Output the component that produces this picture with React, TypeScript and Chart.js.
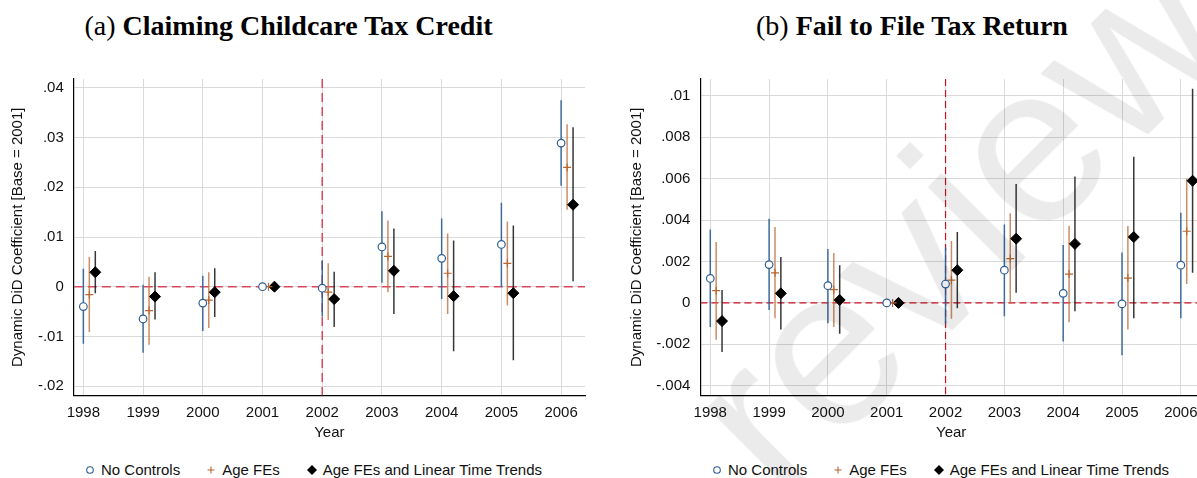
import { useEffect, useRef } from "react"
import { Chart, registerables } from "chart.js"

Chart.register(...registerables)

const years = [1998, 1999, 2000, 2001, 2002, 2003, 2004, 2005, 2006]
const seriesNames = ["No Controls", "Age FEs", "Age FEs and Linear Time Trends"]

// (a) Claiming Childcare Tax Credit
const aNoCtrl = [-0.004, -0.0065, -0.0033, 0, -0.0003, 0.008, 0.0057, 0.0085, 0.0289]
const aNoCtrlLo = [-0.0115, -0.0133, -0.0089, 0, -0.006, 0.0008, -0.0025, 0.0, 0.0203]
const aNoCtrlHi = [0.0036, 0.0004, 0.0022, 0, 0.0053, 0.0152, 0.0137, 0.0169, 0.0375]
const aAgeFE = [-0.0016, -0.0048, -0.0027, 0, -0.0011, 0.0061, 0.0027, 0.0047, 0.024]
const aAgeFELo = [-0.0091, -0.0117, -0.0083, 0, -0.0067, -0.0011, -0.0055, -0.0038, 0.0155]
const aAgeFEHi = [0.006, 0.002, 0.0029, 0, 0.0047, 0.0133, 0.0107, 0.0131, 0.0327]
const aTrend = [0.0029, -0.002, -0.0011, 0, -0.0025, 0.0032, -0.0019, -0.0013, 0.0165]
const aTrendLo = [-0.0013, -0.0066, -0.0061, 0, -0.0081, -0.0055, -0.013, -0.0148, 0.0011]
const aTrendHi = [0.0072, 0.0029, 0.0037, 0, 0.003, 0.0117, 0.0093, 0.0123, 0.0321]
const aYTicks = [-0.02, -0.01, 0, 0.01, 0.02, 0.03, 0.04]

// (b) Fail to File Tax Return
const bNoCtrl = [0.00118, 0.00185, 0.00083, 0, 0.00091, 0.00158, 0.00046, -0.00005, 0.00182]
const bNoCtrlLo = [-0.00117, -0.00034, -0.00098, 0, -0.00101, -0.00064, -0.00186, -0.00253, -0.00074]
const bNoCtrlHi = [0.00355, 0.00406, 0.0026, 0, 0.00267, 0.00379, 0.0028, 0.00243, 0.00435]
const bAgeFE = [0.00059, 0.00145, 0.00064, 0, 0.0011, 0.00214, 0.00139, 0.0012, 0.00346]
const bAgeFELo = [-0.00178, -0.00074, -0.00117, 0, -0.00077, -0.00005, -0.00093, -0.00128, 0.00091]
const bAgeFEHi = [0.00294, 0.00366, 0.00241, 0, 0.00299, 0.00433, 0.00371, 0.00371, 0.006]
const bTrend = [-0.00088, 0.00046, 0.00014, 0, 0.00158, 0.0031, 0.00285, 0.00318, 0.0059]
const bTrendLo = [-0.00237, -0.00128, -0.00149, 0, -0.00026, 0.00049, -0.0004, -0.00074, 0.00145]
const bTrendHi = [0.00062, 0.00222, 0.00182, 0, 0.00342, 0.00574, 0.00611, 0.00706, 0.01035]
const bYTicks = [-0.004, -0.002, 0, 0.002, 0.004, 0.006, 0.008, 0.01]

const BLUE = "#2c5e94"
const ORANGE = "#b8652f"
const BLACK = "#000000"
const BAR_COLORS = ["rgba(44,94,148,0.9)", "rgba(190,112,62,0.8)", "rgba(20,20,20,0.85)"]
const SANS = "'Liberation Sans', Arial, sans-serif"

const fmt = (v: number) => {
  if (Math.abs(v) < 1e-12) return "0"
  const s = String(+Math.abs(v).toFixed(4)).replace(/^0/, "")
  return (v < 0 ? "-" : "") + s
}

type Panel = {
  left: number
  width: number
  yAxisWidth: number
  titlePad: number
  padRight: number
  xMin: number
  xMax: number
  yMin: number
  yMax: number
  yTicks: number[]
  coef: number[][]
  lo: number[][]
  hi: number[][]
  refColor: string
  refDash: number[]
  refWidth: number
}

const CANVAS_TOP = 60
const CANVAS_H = 390

function makePlugin(p: Panel) {
  return {
    id: "errorBars",
    beforeDatasetsDraw(chart: any) {
      const { ctx, chartArea: a, scales } = chart
      const x = scales.x
      const y = scales.y
      ctx.save()
      ctx.beginPath()
      ctx.rect(a.left, a.top, a.right - a.left, a.bottom - a.top)
      ctx.clip()
      // reference lines at zero and at the 2002 reform
      ctx.strokeStyle = p.refColor
      ctx.lineWidth = p.refWidth
      ctx.setLineDash(p.refDash)
      const y0 = y.getPixelForValue(0)
      ctx.beginPath()
      ctx.moveTo(a.left, y0)
      ctx.lineTo(a.right, y0)
      ctx.stroke()
      const xr = x.getPixelForValue(2002)
      ctx.beginPath()
      ctx.moveTo(xr, a.top)
      ctx.lineTo(xr, a.bottom)
      ctx.stroke()
      ctx.setLineDash([])
      // confidence intervals
      chart.data.datasets.forEach((ds: any, i: number) => {
        ctx.strokeStyle = BAR_COLORS[i]
        ctx.lineWidth = 1.5
        ds.data.forEach((pt: any, j: number) => {
          const l = p.lo[i][j]
          const h = p.hi[i][j]
          if (l === h) return
          const px = x.getPixelForValue(pt.x)
          ctx.beginPath()
          ctx.moveTo(px, y.getPixelForValue(l))
          ctx.lineTo(px, y.getPixelForValue(h))
          ctx.stroke()
        })
      })
      ctx.restore()
    },
  }
}

function CoefPlot({ p }: { p: Panel }) {
  const chartRef = useRef<HTMLCanvasElement>(null)
  const chartInstance = useRef<Chart | null>(null)

  useEffect(() => {
    if (!chartRef.current) return
    if (chartInstance.current) chartInstance.current.destroy()
    const ctx = chartRef.current.getContext("2d")
    if (!ctx) return

    const offsets = [0, 0.1, 0.2]
    const styles = [
      { pointStyle: "circle", pointRadius: 3.8, borderColor: BLUE, backgroundColor: "#ffffff", pointBorderWidth: 1.2 },
      { pointStyle: "cross", pointRadius: 4, borderColor: ORANGE, backgroundColor: ORANGE, pointBorderWidth: 1.2 },
      { pointStyle: "rectRot", pointRadius: 5.5, borderColor: BLACK, backgroundColor: BLACK, pointBorderWidth: 1 },
    ]

    chartInstance.current = new Chart(ctx, {
      type: "scatter",
      data: {
        datasets: p.coef.map((vals, i) => ({
          label: seriesNames[i],
          data: years.map((yr, j) => ({ x: yr + offsets[i], y: vals[j] })),
          showLine: false,
          ...styles[i],
        })) as any,
      },
      options: {
        animation: false,
        responsive: true,
        maintainAspectRatio: false,
        layout: { padding: { top: 17, right: p.padRight, left: 0, bottom: 0 } },
        plugins: { legend: { display: false }, tooltip: { enabled: false } },
        scales: {
          x: {
            type: "linear",
            min: p.xMin,
            max: p.xMax,
            afterBuildTicks: (s: any) => {
              s.ticks = years.map((v) => ({ value: v }))
            },
            afterFit: (s: any) => {
              s.height = CANVAS_H - 335.5
            },
            grid: { color: "#d9d9d9", lineWidth: 1, drawTicks: false },
            border: { color: "#000", width: 1.2 },
            ticks: {
              color: "#111",
              padding: 8,
              font: { family: SANS, size: 15 },
              callback: (v: any) => String(v),
            },
            title: {
              display: true,
              text: "Year",
              color: "#111",
              font: { family: SANS, size: 15 },
              padding: { top: 0, bottom: 8 },
            },
          },
          y: {
            type: "linear",
            min: p.yMin,
            max: p.yMax,
            afterBuildTicks: (s: any) => {
              s.ticks = p.yTicks.map((v) => ({ value: v }))
            },
            afterFit: (s: any) => {
              s.width = p.yAxisWidth
            },
            grid: { color: "#d9d9d9", lineWidth: 1, drawTicks: false },
            border: { color: "#000", width: 1.2 },
            ticks: {
              color: "#111",
              padding: 10,
              font: { family: SANS, size: 15 },
              callback: (v: any) => fmt(Number(v)),
            },
            title: {
              display: true,
              text: "Dynamic DiD Coefficient [Base = 2001]",
              color: "#111",
              font: { family: SANS, size: 15 },
              padding: { top: p.titlePad, bottom: 0 },
            },
          },
        },
      },
      plugins: [makePlugin(p) as any],
    })

    return () => {
      if (chartInstance.current) {
        chartInstance.current.destroy()
        chartInstance.current = null
      }
    }
  }, [p])

  return (
    <div style={{ position: "absolute", left: p.left, top: CANVAS_TOP, width: p.width, height: CANVAS_H }}>
      <canvas ref={chartRef}></canvas>
    </div>
  )
}

function Legend({ left }: { left: number }) {
  const item = { display: "flex", alignItems: "center" } as const
  return (
    <div
      style={{
        position: "absolute",
        left,
        top: 461,
        display: "flex",
        alignItems: "center",
        gap: 26,
        fontFamily: SANS,
        fontSize: 15,
        lineHeight: "18px",
        color: "#111",
        whiteSpace: "nowrap",
      }}
    >
      <div style={item}>
        <svg width="10" height="10" style={{ marginRight: 6 }}>
          <circle cx="5" cy="5" r="3.3" fill="#fff" stroke={BLUE} strokeWidth="1.1" />
        </svg>
        <span>{seriesNames[0]}</span>
      </div>
      <div style={item}>
        <svg width="10" height="10" style={{ marginRight: 6 }}>
          <path d="M5 1.5 V8.5 M1.5 5 H8.5" stroke={ORANGE} strokeWidth="1.1" />
        </svg>
        <span>{seriesNames[1]}</span>
      </div>
      <div style={item}>
        <svg width="12" height="12" style={{ marginRight: 5 }}>
          <polygon points="6,1 11,6 6,11 1,6" fill={BLACK} />
        </svg>
        <span>{seriesNames[2]}</span>
      </div>
    </div>
  )
}

const panelA: Panel = {
  left: 0,
  width: 600,
  yAxisWidth: 73.8,
  titlePad: 9,
  padRight: 15,
  xMin: 1997.84,
  xMax: 2006.4,
  yMin: -0.0219,
  yMax: 0.0418,
  yTicks: aYTicks,
  coef: [aNoCtrl, aAgeFE, aTrend],
  lo: [aNoCtrlLo, aAgeFELo, aTrendLo],
  hi: [aNoCtrlHi, aAgeFEHi, aTrendHi],
  refColor: "#d8485e",
  refDash: [9, 5],
  refWidth: 1.5,
}

const panelB: Panel = {
  left: 610,
  width: 607,
  yAxisWidth: 90.4,
  titlePad: 17.5,
  padRight: 15,
  xMin: 1997.832,
  xMax: 2006.36,
  yMin: -0.004474,
  yMax: 0.010815,
  yTicks: bYTicks,
  coef: [bNoCtrl, bAgeFE, bTrend],
  lo: [bNoCtrlLo, bAgeFELo, bTrendLo],
  hi: [bNoCtrlHi, bAgeFEHi, bTrendHi],
  refColor: "#cc1122",
  refDash: [7, 4],
  refWidth: 1.2,
}

function Title({ center, tag, text }: { center: number; tag: string; text: string }) {
  return (
    <div
      style={{
        position: "absolute",
        left: center - 300,
        width: 600,
        top: 12,
        textAlign: "center",
        fontFamily: "'Liberation Serif', 'Times New Roman', serif",
        fontSize: 28,
        lineHeight: "28px",
        color: "#000",
        whiteSpace: "nowrap",
      }}
    >
      {tag} <b>{text}</b>
    </div>
  )
}

export default function App() {
  return (
    <div
      style={{
        position: "absolute",
        left: 0,
        top: 0,
        width: 1197,
        height: 478,
        overflow: "hidden",
        background: "#fff",
      }}
    >
      <Title center={288.5} tag="(a)" text="Claiming Childcare Tax Credit" />
      <Title center={912} tag="(b)" text="Fail to File Tax Return" />
      <CoefPlot p={panelA} />
      <CoefPlot p={panelB} />
      <Legend left={85} />
      <Legend left={712} />
      <div
        style={{
          position: "absolute",
          left: 955,
          top: 218,
          transform: "translate(-50%, -50%) rotate(-45deg)",
          fontFamily: SANS,
          fontSize: 225,
          lineHeight: "225px",
          color: "rgba(0,0,0,0.08)",
          whiteSpace: "nowrap",
          pointerEvents: "none",
        }}
      >
        review
      </div>
    </div>
  )
}
